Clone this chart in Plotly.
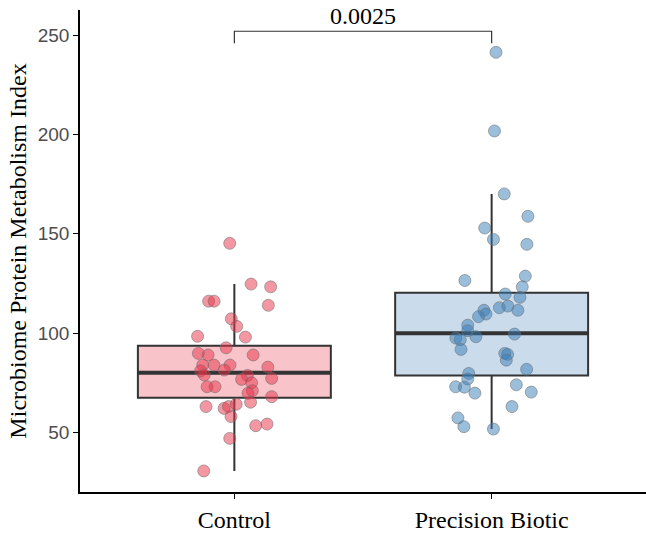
import plotly.graph_objects as go

# ---- data ----
groups = ["Control", "Precision Biotic"]

control_values = [145.2, 124.7, 123.3, 116.1, 116.1, 114.0, 107.2, 103.4, 98.4, 98.0,
                  92.6, 89.8, 89.0, 89.0, 83.9, 83.9, 83.9, 82.9, 81.0, 81.4,
                  78.9, 78.7, 77.2, 76.7, 75.0, 73.0, 73.0, 71.0, 69.7, 68.0,
                  65.2, 63.0, 62.1, 63.0, 64.2, 58.0, 53.4, 54.2, 47.0, 30.6]
control_jitter = [-0.018, 0.065, 0.141, -0.100, -0.079, 0.132, -0.012, 0.009, -0.143, 0.043,
                  -0.032, -0.140, -0.102, 0.073, -0.123, -0.079, -0.017, 0.130, -0.131, -0.039,
                  -0.117, 0.051, 0.145, 0.028, 0.067, -0.106, -0.075, 0.070, 0.053, 0.145,
                  0.063, -0.110, -0.040, -0.023, 0.007, -0.013, 0.083, 0.127, -0.018, -0.119]

biotic_values = [241.4, 201.8, 170.1, 158.8, 152.9, 147.2, 144.7, 126.5, 128.7, 123.3,
                 119.7, 118.0, 112.8, 113.6, 111.5, 111.5, 109.6, 108.3, 104.0, 101.2,
                 99.5, 98.2, 97.5, 96.7, 91.8, 89.8, 89.3, 86.4, 81.8, 79.7,
                 76.9, 74.0, 73.0, 72.8, 70.3, 69.8, 63.0, 57.3, 52.9, 51.7]
biotic_jitter = [0.017, 0.011, 0.049, 0.141, -0.027, 0.007, 0.137, -0.104, 0.131, 0.119,
                 0.053, 0.110, 0.030, 0.063, 0.102, -0.030, -0.022, -0.051, -0.093, -0.093,
                 0.089, -0.061, -0.139, -0.122, -0.119, 0.051, 0.062, 0.057, 0.136, -0.089,
                 -0.093, 0.096, -0.140, -0.106, 0.154, -0.065, 0.079, -0.131, -0.108, 0.007]

# box statistics: [Control, Precision Biotic]
box_q1 = [67.5, 78.7]
box_median = [80.1, 99.9]
box_q3 = [93.6, 120.3]
box_lower = [30.6, 51.7]
box_upper = [124.7, 170.1]

p_value_label = "0.0025"
bracket_y = 252.0
bracket_drop = 6.0

y_ticks = [50, 100, 150, 200, 250]

# ---- style ----
box_fill = ["#F8C3C9", "#CADBEC"]
point_fill = ["rgba(232,50,72,0.5)", "rgba(55,126,184,0.5)"]
dark = "#333333"
box_width = 0.75
serif = "Liberation Serif, Times New Roman, serif"
sans = "Liberation Sans, Arial, sans-serif"

fig = go.Figure()

positions = [1, 2]
for i, pos in enumerate(positions):
    fig.add_trace(go.Box(
        x=[pos], q1=[box_q1[i]], median=[box_median[i]], q3=[box_q3[i]],
        lowerfence=[box_lower[i]], upperfence=[box_upper[i]],
        width=box_width, fillcolor=box_fill[i],
        line=dict(color=dark, width=2), whiskerwidth=0,
        boxpoints=False, showlegend=False, hoverinfo="skip"))
    fig.add_trace(go.Scatter(
        x=[pos - box_width / 2, pos + box_width / 2],
        y=[box_median[i], box_median[i]],
        mode="lines", line=dict(color=dark, width=4),
        showlegend=False, hoverinfo="skip"))

for pos, vals, jit, col in [(1, control_values, control_jitter, point_fill[0]),
                            (2, biotic_values, biotic_jitter, point_fill[1])]:
    fig.add_trace(go.Scatter(
        x=[pos + j for j in jit], y=vals, mode="markers",
        marker=dict(size=12, color=col, line=dict(color="rgba(110,110,110,0.55)", width=1)),
        showlegend=False))

# significance bracket
fig.add_trace(go.Scatter(
    x=[positions[0], positions[0], positions[1], positions[1]],
    y=[bracket_y - bracket_drop, bracket_y, bracket_y, bracket_y - bracket_drop],
    mode="lines", line=dict(color=dark, width=1.2),
    showlegend=False, hoverinfo="skip"))
fig.add_annotation(x=(positions[0] + positions[1]) / 2, y=bracket_y, text=p_value_label,
                   showarrow=False, yanchor="bottom", yshift=0,
                   font=dict(family=serif, size=24, color="black"))

fig.update_layout(
    width=646, height=534,
    margin=dict(l=80, r=0, t=10, b=42),
    plot_bgcolor="white", paper_bgcolor="white",
    xaxis=dict(range=[0.4, 2.6], tickvals=positions, ticktext=groups,
               showline=True, linecolor="black", linewidth=1.5,
               ticks="outside", ticklen=5, tickcolor="black", tickwidth=1.2,
               tickfont=dict(family=serif, size=24, color="black"),
               showgrid=False, zeroline=False, automargin=False),
    yaxis=dict(range=[20, 262.7], tickvals=y_ticks,
               showline=True, linecolor="black", linewidth=1.5,
               ticks="outside", ticklen=5, tickcolor="black", tickwidth=1.2,
               tickfont=dict(family=sans, size=19, color="#4D4D4D"),
               title=dict(text="Microbiome Protein Metabolism Index",
                          font=dict(family=serif, size=24, color="black"), standoff=4),
               showgrid=False, zeroline=False, automargin=False),
)

fig.write_html("out.html", config={"displayModeBar": False},
               post_script="document.body.style.margin='0';")
